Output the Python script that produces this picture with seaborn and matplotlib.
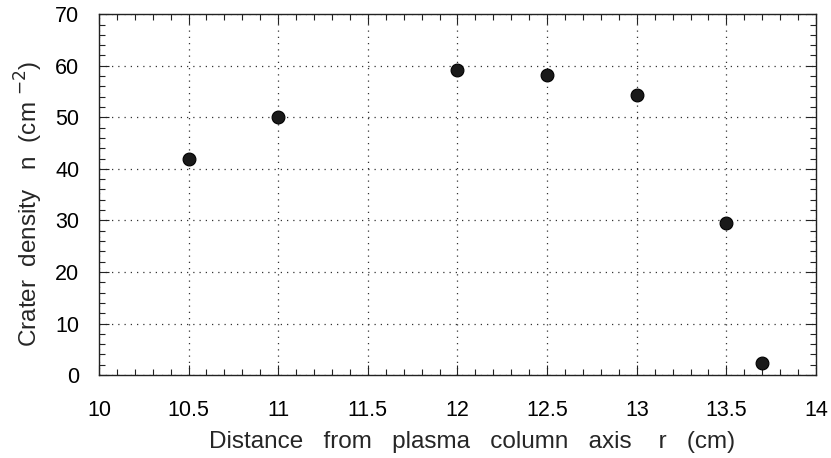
import numpy as np
import pandas as pd
import seaborn as sns
import matplotlib.pyplot as plt
from matplotlib.ticker import MultipleLocator

# data
radius = [10.5, 11.0, 12.0, 12.5, 13.0, 13.5, 13.7]
density = [42.0, 50.0, 59.2, 58.3, 54.3, 29.5, 2.4]

df = pd.DataFrame({'r': radius, 'n': density})

sns.set_theme(style='white')
plt.rcParams['font.family'] = ['Liberation Sans', 'DejaVu Sans']

fig = plt.figure(figsize=(8.31, 4.58), dpi=100)
ax = fig.add_axes([0.119, 0.181, 0.863, 0.788])

ax.grid(True, which='major', linestyle=(0, (1, 4)), color='#333333', lw=0.9)

sns.scatterplot(data=df, x='r', y='n', ax=ax, s=85, color='#1a1a1a',
                edgecolor='#000000', linewidth=0.8, zorder=5, legend=False)

ax.set_xlim(10, 14)
ax.set_ylim(0, 70)
ax.xaxis.set_major_locator(MultipleLocator(0.5))
ax.xaxis.set_minor_locator(MultipleLocator(0.1))
ax.yaxis.set_major_locator(MultipleLocator(10))
ax.yaxis.set_minor_locator(MultipleLocator(2))
ax.set_xticklabels([f'{v:g}' for v in ax.get_xticks()])

ax.tick_params(which='both', direction='in', top=True, right=True,
               bottom=True, left=True, colors='#222222', labelsize=15.5,
               labelcolor='black')
ax.tick_params(which='major', length=7, width=0.8)
ax.tick_params(axis='x', which='major', pad=18)
ax.tick_params(axis='y', which='major', pad=14)
ax.tick_params(which='minor', length=4, width=0.8)
for sp in ax.spines.values():
    sp.set_color('#222222')
    sp.set_linewidth(1.0)

ax.set_xlabel('Distance   from   plasma   column   axis    r   (cm)',
              fontsize=17.5, labelpad=10)
ax.set_ylabel('Crater  density   n  (cm $^{-2}$)', fontsize=17.5)
ax.yaxis.set_label_coords(-0.075, 0.475)
ax.xaxis.set_label_coords(0.52, -0.155)

fig.savefig('out.png', dpi=100)
